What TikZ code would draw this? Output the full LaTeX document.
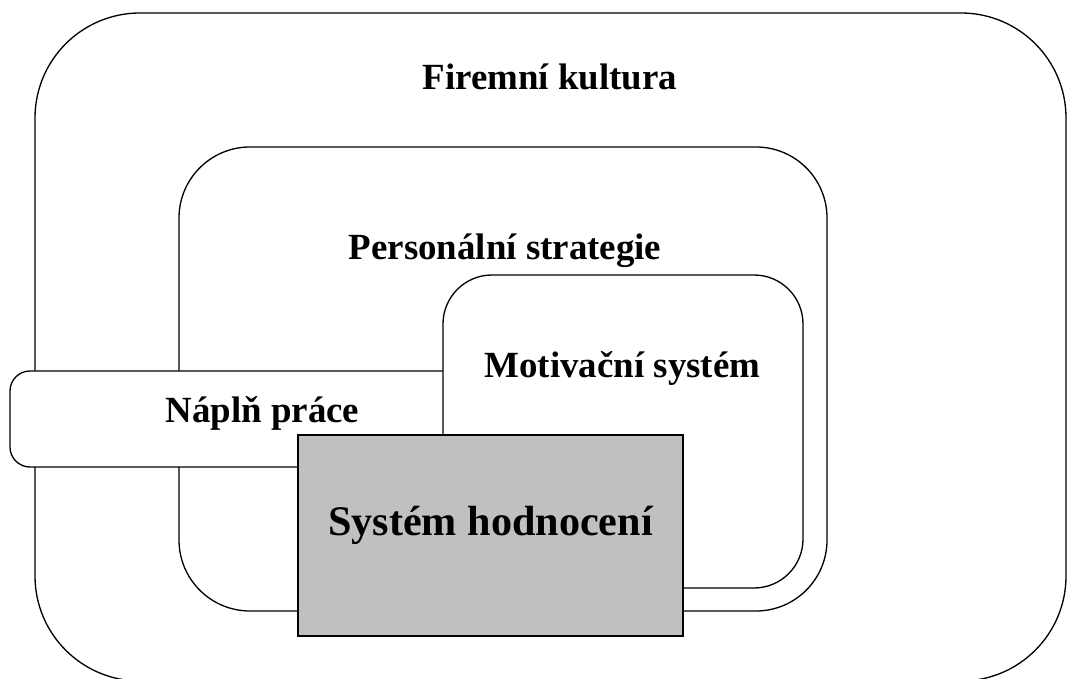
\documentclass[tikz,border=0pt]{standalone}
\usepackage{fontspec}
\setmainfont{Liberation Serif}
\usepackage{tikz}
\usetikzlibrary{positioning}
\tikzstyle{box} = [draw, line width=0.75pt, fill=white, rectangle, inner sep=0]
\tikzstyle{label} = [font=\fontsize{21}{25}\selectfont\bfseries, anchor=base, inner sep=0]
\tikzstyle{biglabel} = [font=\fontsize{24}{29}\selectfont\bfseries, anchor=base, inner sep=0]

\begin{document}
\begin{tikzpicture}
	\clip (0,0) rectangle (21.34,-13.58);

	\node (kultura) at(11.01,-6.94) [box, rounded corners=2.1cm, minimum width=20.62cm, minimum height=13.36cm] {};
	\node (strategie) at(10.06,-7.58) [box, rounded corners=1.42cm, minimum width=12.96cm, minimum height=9.28cm] {};
	\node (napln) at(5.3,-8.38) [box, rounded corners=0.4cm, minimum width=10.2cm, minimum height=1.92cm] {};
	\node (motivace) at(12.46,-8.63) [box, rounded corners=0.98cm, minimum width=7.2cm, minimum height=6.26cm] {};
	\node (hodnoceni) at(9.81,-10.71) [box, line width=1.3pt, fill={rgb,255:red,192;green,192;blue,192}, minimum width=7.7cm, minimum height=4.02cm] {};

	\node (t1) at(11.0,-1.8) [label] {Firemní kultura};
	\node (t2) at(10.1,-5.2) [label] {Personální strategie};
	\node (t3) at(12.45,-7.56) [label] {Motivační systém};
	\node (t4) at(5.25,-8.46) [label] {Náplň práce};
	\node (t5) at(9.81,-10.7) [biglabel] {Systém hodnocení};
\end{tikzpicture}
\end{document}
